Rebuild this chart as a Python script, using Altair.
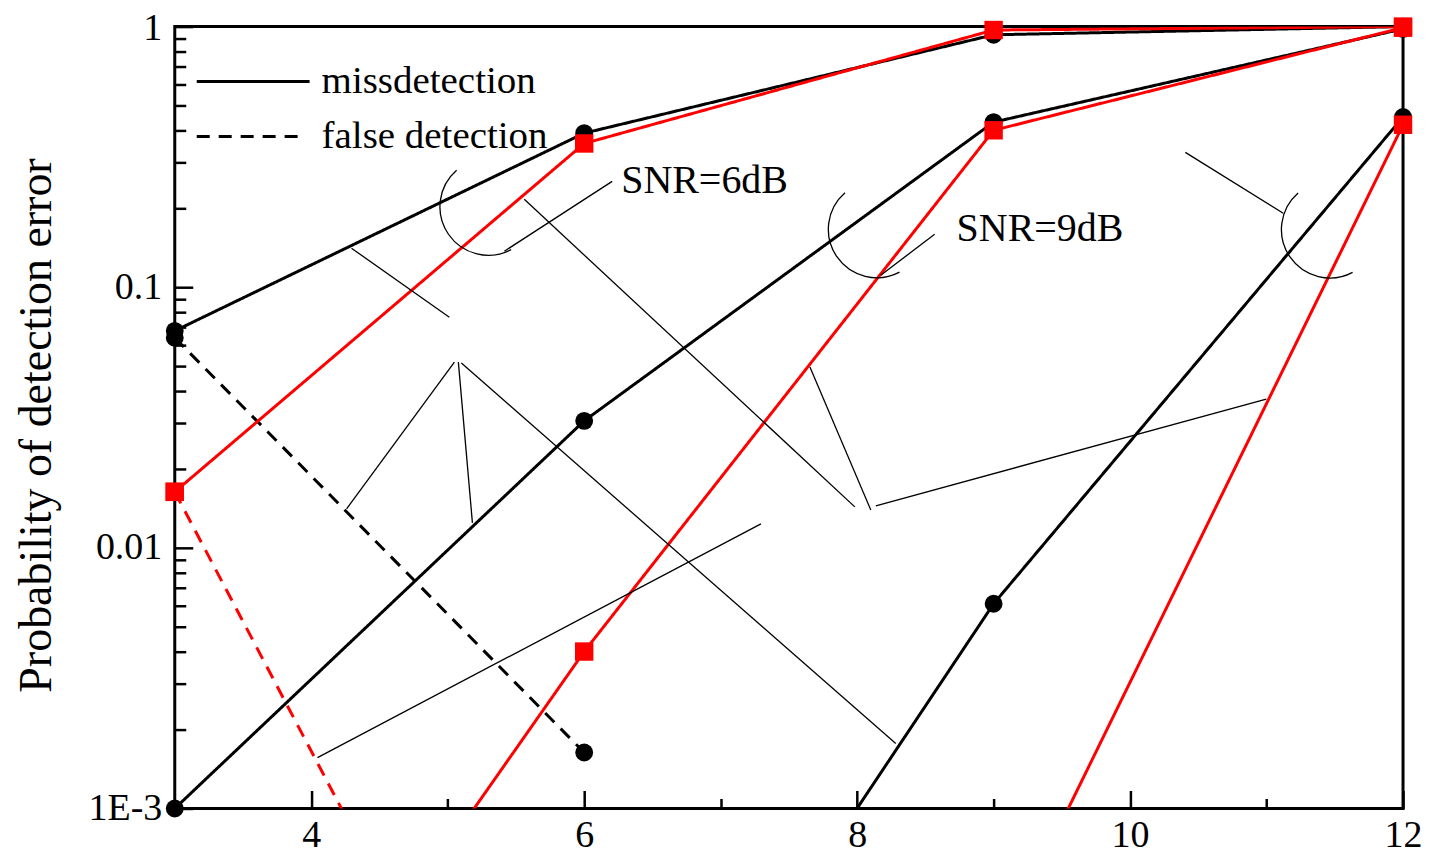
import altair as alt
import pandas as pd

FONT = "Liberation Serif"

# ---------------- series ----------------
# missdetection, SNR = 6 dB
miss6_black_x = [3, 6, 9, 12]
miss6_black_y = [0.068, 0.39, 0.93, 1.0]
miss6_red_x = [3, 6, 9, 12]
miss6_red_y = [0.0164, 0.356, 0.97, 1.0]
# missdetection, SNR = 9 dB
miss9_black_x = [3, 6, 9, 12]
miss9_black_y = [0.001, 0.0307, 0.43, 0.98]
miss9_red_x = [3, 6, 9, 12]
miss9_red_y = [0.000023, 0.0040, 0.40, 0.99]
# missdetection, third group (unlabelled arc)
miss12_black_x = [6, 9, 12]
miss12_black_y = [0.000027, 0.0061, 0.45]
miss12_red_x = [9, 12]
miss12_red_y = [0.00026, 0.42]
# false detection
false_black_x = [3, 6]
false_black_y = [0.064, 0.00164]
false_red_x = [3, 6]
false_red_y = [0.0164, 0.000017]

series_defs = [
    ("miss6_black", "black", "missdetection", miss6_black_x, miss6_black_y),
    ("miss9_black", "black", "missdetection", miss9_black_x, miss9_black_y),
    ("miss12_black", "black", "missdetection", miss12_black_x, miss12_black_y),
    ("false_black", "black", "false detection", false_black_x, false_black_y),
    ("miss6_red", "red", "missdetection", miss6_red_x, miss6_red_y),
    ("miss9_red", "red", "missdetection", miss9_red_x, miss9_red_y),
    ("miss12_red", "red", "missdetection", miss12_red_x, miss12_red_y),
    ("false_red", "red", "false detection", false_red_x, false_red_y),
]

# ---------------- axis ticks ----------------
x_label_values = [4, 6, 8, 10, 12]
x_tick_values = [4, 5, 6, 7, 8, 9, 10, 11, 12]
y_label_values = [0.001, 0.01, 0.1, 1]
y_label_texts = ["1E-3", "0.01", "0.1", "1"]
y_tick_values = [m * 10.0 ** e for e in (-3, -2, -1) for m in range(1, 10)] + [1]

# ---------------- annotations (data units) ----------------
legend_names = ["missdetection", "false detection"]
legend_x1 = [3.161, 3.161]
legend_x2 = [3.988, 3.929]
legend_y = [0.6155, 0.3789]
legend_text_x = [4.076, 4.076]

snr_text = ["SNR=6dB", "SNR=9dB"]
snr_text_x = [6.271, 8.729]
snr_text_y = [0.2547, 0.1668]

arc_x = [5.298, 8.144, 11.464]
arc_y = [0.2034, 0.1668, 0.1664]

leader_x1 = [6.205, 8.568, 10.405, 4.295, 5.561, 7.654, 8.137, 5.049, 5.078, 5.100, 4.046]
leader_y1 = [0.2547, 0.1596, 0.3291, 0.1411, 0.2174, 0.04937, 0.01449, 0.05161, 0.05161, 0.05116, 0.001568]
leader_x2 = [5.415, 8.173, 11.122, 5.012, 7.983, 8.100, 10.998, 4.259, 5.181, 8.283, 7.295]
leader_y2 = [0.1374, 0.1112, 0.1921, 0.07674, 0.01436, 0.01398, 0.03724, 0.01410, 0.01247, 0.001774, 0.01236]

# ---------------- tables ----------------
rows = []
for sid, method, kind, xs, ys in series_defs:
    for xv, yv in zip(xs, ys):
        rows.append({"series": sid, "method": method, "kind": kind, "snr": xv, "p": yv})
df = pd.DataFrame(rows)

legend_df = pd.DataFrame({"kind": legend_names, "x1": legend_x1, "x2": legend_x2,
                          "y": legend_y, "tx": legend_text_x})
snr_df = pd.DataFrame({"label": snr_text, "x": snr_text_x, "y": snr_text_y})
arc_df = pd.DataFrame({"x": arc_x, "y": arc_y})
leader_df = pd.DataFrame({"x1": leader_x1, "y1": leader_y1, "x2": leader_x2, "y2": leader_y2})

W, H = 1230, 783
X_SCALE = alt.Scale(domain=[3, 12], nice=False, zero=False)
Y_SCALE = alt.Scale(type="log", domain=[0.001, 1], nice=False)
DASH_SCALE = alt.Scale(domain=["missdetection", "false detection"], range=[[1, 0], [13, 9]])

label_expr = "[" + ",".join("'%s'" % t for t in y_label_texts) + "][indexof([" + \
    ",".join(repr(v) for v in y_label_values) + "], datum.value)]"

x_label_axis = alt.Axis(orient="bottom", values=x_label_values, ticks=False, tickSize=0,
                        domain=False, grid=False, labelFont=FONT, labelFontSize=38,
                        labelColor="black", labelPadding=8, labelFlush=False,
                        labelOverlap=False, title=None)
y_label_axis = alt.Axis(orient="left", values=y_label_values, labelExpr=label_expr,
                        ticks=False, tickSize=0, domain=False, grid=False,
                        labelFont=FONT, labelFontSize=38, labelColor="black",
                        labelPadding=13, labelOverlap=False, labelFlush=False,
                        labelOffset={"condition": {"test": "datum.value >= 0.5", "value": 2},
                                     "value": 0},
                        title="Probability of detection error", titleFont=FONT,
                        titleFontSize=46, titleFontWeight="normal", titleColor="black",
                        titleAngle=270, titleX=-124, titleY=399,
                        titleBaseline="alphabetic", titleAlign="center")
x_tick_axis = alt.Axis(orient="top", offset=-H, values=x_tick_values, labels=False,
                       domain=False, grid=False, ticks=True, tickColor="black",
                       tickWidth=2.5,
                       tickSize={"condition": {"test": "datum.value % 2 === 0", "value": 18},
                                 "value": 10},
                       title=None)
y_tick_axis = alt.Axis(orient="right", offset=-W, values=y_tick_values, labels=False,
                       domain=False, grid=False, ticks=True, tickColor="black",
                       tickWidth=2.5,
                       tickSize={"condition": {
                           "test": "abs(log(datum.value)/LN10 - round(log(datum.value)/LN10)) < 0.001",
                           "value": 18}, "value": 11},
                       title=None)

base = alt.Chart(df)


def xy(x_axis=None, y_axis=None):
    return dict(
        x=alt.X("snr:Q", scale=X_SCALE, axis=x_axis),
        y=alt.Y("p:Q", scale=Y_SCALE, axis=y_axis),
    )


black_lines = base.transform_filter(alt.datum.method == "black").mark_line(
    clip=True, strokeWidth=3, color="black"
).encode(
    **xy(x_label_axis, y_label_axis),
    detail="series:N",
    strokeDash=alt.StrokeDash("kind:N", scale=DASH_SCALE, legend=None),
)
red_lines = base.transform_filter(alt.datum.method == "red").mark_line(
    clip=True, strokeWidth=3, color="#ff0000"
).encode(
    **xy(x_tick_axis, y_tick_axis),
    detail="series:N",
    strokeDash=alt.StrokeDash("kind:N", scale=DASH_SCALE, legend=None),
)
black_pts = base.transform_filter(
    (alt.datum.method == "black") & (alt.datum.p >= 0.001)
).mark_point(shape="circle", filled=True, size=320, opacity=1, color="black").encode(**xy())
red_pts = base.transform_filter(
    (alt.datum.method == "red") & (alt.datum.p >= 0.001)
).mark_point(shape="square", filled=True, size=340, opacity=1, color="#ff0000").encode(**xy())

leaders = alt.Chart(leader_df).mark_rule(color="black", strokeWidth=1.3).encode(
    x=alt.X("x1:Q", scale=X_SCALE, axis=None),
    y=alt.Y("y1:Q", scale=Y_SCALE, axis=None),
    x2="x2:Q",
    y2="y2:Q",
)

ARC_PATH = "M -0.656 -0.755 A 1 1 0 0 0 0.469 0.883"
arcs = alt.Chart(arc_df).mark_point(
    shape=ARC_PATH, filled=False, size=9409, strokeWidth=1.3, color="black", opacity=1
).encode(
    x=alt.X("x:Q", scale=X_SCALE, axis=None),
    y=alt.Y("y:Q", scale=Y_SCALE, axis=None),
)

snr_labels = alt.Chart(snr_df).mark_text(
    align="left", baseline="middle", font=FONT, fontSize=40, color="black"
).encode(
    x=alt.X("x:Q", scale=X_SCALE, axis=None),
    y=alt.Y("y:Q", scale=Y_SCALE, axis=None),
    text="label:N",
)

legend_lines = alt.Chart(legend_df).mark_rule(color="black", strokeWidth=3).encode(
    x=alt.X("x1:Q", scale=X_SCALE, axis=None),
    x2="x2:Q",
    y=alt.Y("y:Q", scale=Y_SCALE, axis=None),
    strokeDash=alt.StrokeDash("kind:N", scale=DASH_SCALE, legend=None),
)
legend_text = alt.Chart(legend_df).mark_text(
    align="left", baseline="middle", font=FONT, fontSize=39, color="black"
).encode(
    x=alt.X("tx:Q", scale=X_SCALE, axis=None),
    y=alt.Y("y:Q", scale=Y_SCALE, axis=None),
    text="kind:N",
)

chart = alt.layer(
    black_lines, red_lines, leaders, arcs, black_pts, red_pts,
    legend_lines, legend_text, snr_labels,
).resolve_axis(
    x="independent", y="independent"
).properties(
    width=W, height=H,
    padding={"left": 167, "top": 18, "right": 22, "bottom": 47},
    autosize=alt.AutoSizeParams(type="none"),
    background="white",
).configure(
    font=FONT
).configure_axis(
    labelFont=FONT, titleFont=FONT
).configure_text(
    font=FONT
).configure_view(stroke="black", strokeWidth=3)

chart.save("out.html", embed_options={"renderer": "svg", "actions": False})
